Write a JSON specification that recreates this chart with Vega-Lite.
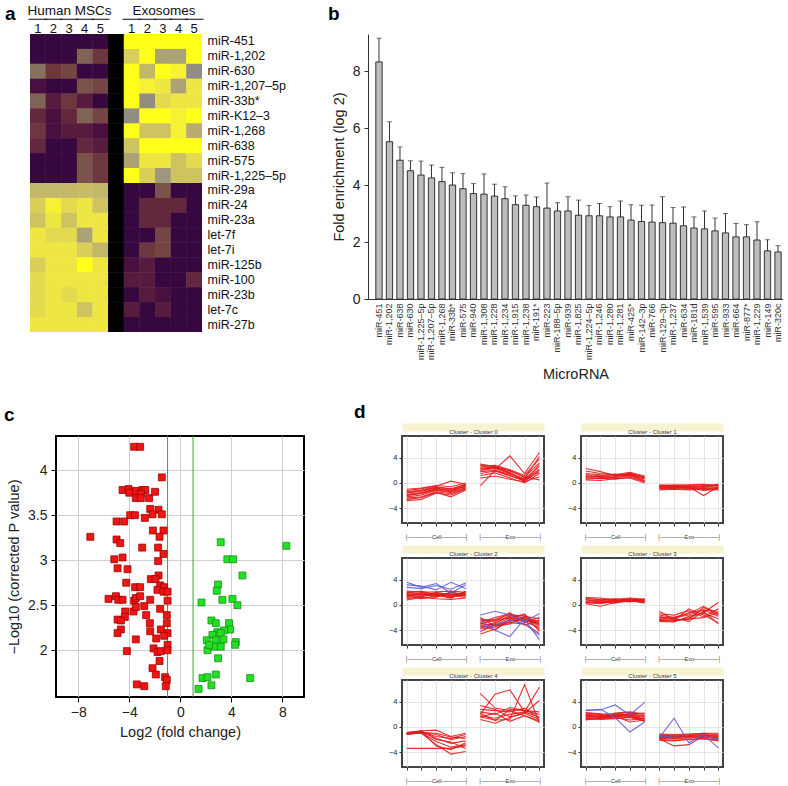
{
"$schema":"https://vega.github.io/schema/vega-lite/v6.json",
"padding":{"left":3,"top":3,"right":0,"bottom":0},
"background":"white",
"config":{"font":"Liberation Sans","view":{"stroke":null},"axis":{"labelFont":"Liberation Sans","titleFont":"Liberation Sans","titleFontWeight":"normal","labelColor":"#222","titleColor":"#222"},"title":{"font":"Liberation Sans"}},
"datasets":{
"heat":[
{"mir":"miR-451","m1":0,"m2":0,"m3":0,"m4":0,"m5":0,"g":0,"e1":1,"e2":1,"e3":1,"e4":1,"e5":1},
{"mir":"miR-1,202","m1":0,"m2":0,"m3":0,"m4":0.35,"m5":0.2,"g":0,"e1":0.8,"e2":1,"e3":0.6,"e4":0.6,"e5":1},
{"mir":"miR-630","m1":0.4,"m2":0.2,"m3":0.25,"m4":0,"m5":0,"g":0,"e1":1,"e2":0.7,"e3":1,"e4":0.95,"e5":0.5},
{"mir":"miR-1,207–5p","m1":0.05,"m2":0,"m3":0,"m4":0.3,"m5":0.25,"g":0,"e1":1,"e2":0.95,"e3":0.9,"e4":0.6,"e5":0.9},
{"mir":"miR-33b*","m1":0.35,"m2":0.1,"m3":0.2,"m4":0.1,"m5":0,"g":0,"e1":1,"e2":0.5,"e3":0.85,"e4":0.9,"e5":0.9},
{"mir":"miR-K12–3","m1":0.15,"m2":0.05,"m3":0.15,"m4":0.35,"m5":0.25,"g":0,"e1":0.5,"e2":1,"e3":1,"e4":0.95,"e5":1},
{"mir":"miR-1,268","m1":0.2,"m2":0.05,"m3":0.1,"m4":0.1,"m5":0.05,"g":0,"e1":1,"e2":0.75,"e3":0.75,"e4":0.95,"e5":0.65},
{"mir":"miR-638","m1":0.15,"m2":0,"m3":0,"m4":0.15,"m5":0.1,"g":0,"e1":0.75,"e2":1,"e3":1,"e4":1,"e5":1},
{"mir":"miR-575","m1":0,"m2":0,"m3":0,"m4":0.3,"m5":0.2,"g":0,"e1":0.6,"e2":0.9,"e3":0.9,"e4":0.75,"e5":0.85},
{"mir":"miR-1,225–5p","m1":0,"m2":0,"m3":0,"m4":0.3,"m5":0.2,"g":0,"e1":1,"e2":0.8,"e3":0.55,"e4":0.75,"e5":0.75},
{"mir":"miR-29a","m1":0.7,"m2":0.7,"m3":0.7,"m4":0.72,"m5":0.7,"g":0,"e1":0,"e2":0,"e3":0.3,"e4":0,"e5":0},
{"mir":"miR-24","m1":0.8,"m2":0.95,"m3":0.85,"m4":0.9,"m5":0.75,"g":0,"e1":0,"e2":0.15,"e3":0.15,"e4":0.15,"e5":0},
{"mir":"miR-23a","m1":0.75,"m2":0.9,"m3":0.75,"m4":0.9,"m5":0.9,"g":0,"e1":0,"e2":0.15,"e3":0.15,"e4":0,"e5":0},
{"mir":"let-7f","m1":0.9,"m2":0.85,"m3":0.85,"m4":0.6,"m5":0.9,"g":0,"e1":0,"e2":0,"e3":0.25,"e4":0,"e5":0},
{"mir":"let-7i","m1":0.9,"m2":0.9,"m3":0.9,"m4":0.8,"m5":0.7,"g":0,"e1":0,"e2":0.2,"e3":0.25,"e4":0,"e5":0},
{"mir":"miR-125b","m1":0.8,"m2":0.9,"m3":0.9,"m4":1,"m5":0.9,"g":0,"e1":0.05,"e2":0.1,"e3":0,"e4":0,"e5":0},
{"mir":"miR-100","m1":0.85,"m2":0.9,"m3":0.9,"m4":0.9,"m5":0.9,"g":0,"e1":0.1,"e2":0.1,"e3":0,"e4":0,"e5":0.15},
{"mir":"miR-23b","m1":0.85,"m2":0.9,"m3":0.85,"m4":0.9,"m5":0.9,"g":0,"e1":0,"e2":0.1,"e3":0.05,"e4":0,"e5":0},
{"mir":"let-7c","m1":0.85,"m2":0.9,"m3":0.9,"m4":0.75,"m5":0.9,"g":0,"e1":0.1,"e2":0,"e3":0.1,"e4":0,"e5":0},
{"mir":"miR-27b","m1":0.9,"m2":0.9,"m3":0.9,"m4":0.9,"m5":0.9,"g":0,"e1":0,"e2":0,"e3":0,"e4":0,"e5":0}
],
"bars":[
{"m":"miR-451","v":8.32,"hi":9.15},{"m":"miR-1,202","v":5.52,"hi":6.22},{"m":"miR-638","v":4.87,"hi":5.33},{"m":"miR-630","v":4.5,"hi":4.85},
{"m":"miR-1,225–5p","v":4.35,"hi":4.84},{"m":"miR-1,207–5p","v":4.25,"hi":4.7},{"m":"miR-1,268","v":4.12,"hi":4.62},{"m":"miR-33b*","v":4.0,"hi":4.43},
{"m":"miR-575","v":3.87,"hi":4.4},{"m":"miR-940","v":3.7,"hi":4.05},{"m":"miR-1,308","v":3.68,"hi":4.39},{"m":"miR-1,228","v":3.61,"hi":4.03},
{"m":"miR-1,234","v":3.52,"hi":3.94},{"m":"miR-1,915","v":3.31,"hi":3.62},{"m":"miR-1,238","v":3.29,"hi":3.65},{"m":"miR-191*","v":3.24,"hi":3.58},
{"m":"miR-223","v":3.19,"hi":4.07},{"m":"miR-188–5p","v":3.09,"hi":3.38},{"m":"miR-939","v":3.09,"hi":3.59},{"m":"miR-1,825","v":2.94,"hi":3.47},
{"m":"miR-1,224–5p","v":2.92,"hi":3.28},{"m":"miR-1,246","v":2.92,"hi":3.35},{"m":"miR-1,280","v":2.88,"hi":3.24},{"m":"miR-1,281","v":2.88,"hi":3.44},
{"m":"miR-425*","v":2.77,"hi":3.31},{"m":"miR-142–3p","v":2.72,"hi":3.29},{"m":"miR-766","v":2.7,"hi":3.3},{"m":"miR-129–3p","v":2.68,"hi":3.59},
{"m":"miR-1,237","v":2.66,"hi":3.21},{"m":"miR-634","v":2.57,"hi":3.23},{"m":"miR-181d","v":2.49,"hi":2.88},{"m":"miR-1,539","v":2.46,"hi":3.09},
{"m":"miR-595","v":2.39,"hi":2.84},{"m":"miR-933","v":2.32,"hi":3.0},{"m":"miR-664","v":2.18,"hi":2.65},{"m":"miR-877*","v":2.18,"hi":2.61},
{"m":"miR-1,229","v":2.07,"hi":2.71},{"m":"miR-149","v":1.69,"hi":2.08},{"m":"miR-320c","v":1.65,"hi":1.87}
],
"thr":[{"t":-1},{"t":1}],
"volc":[
{"x":-3.62,"y":4.26,"g":"down"},{"x":-3.15,"y":4.26,"g":"down"},{"x":-1.45,"y":3.92,"g":"down"},
{"x":-4.53,"y":3.78,"g":"down"},{"x":-4.06,"y":3.79,"g":"down"},{"x":-3.49,"y":3.77,"g":"down"},{"x":-2.97,"y":3.78,"g":"down"},{"x":-2.75,"y":3.78,"g":"down"},{"x":-4.0,"y":3.75,"g":"down"},{"x":-3.1,"y":3.74,"g":"down"},
{"x":-3.49,"y":3.69,"g":"down"},{"x":-3.1,"y":3.69,"g":"down"},{"x":-2.45,"y":3.69,"g":"down"},{"x":-1.98,"y":3.76,"g":"down"},
{"x":-2.36,"y":3.57,"g":"down"},{"x":-1.71,"y":3.56,"g":"down"},{"x":-1.45,"y":3.51,"g":"down"},
{"x":-3.93,"y":3.5,"g":"down"},{"x":-3.56,"y":3.5,"g":"down"},{"x":-2.78,"y":3.47,"g":"down"},{"x":-2.18,"y":3.51,"g":"down"},
{"x":-5.0,"y":3.43,"g":"down"},{"x":-4.4,"y":3.43,"g":"down"},
{"x":-2.15,"y":3.33,"g":"down"},{"x":-1.32,"y":3.33,"g":"down"},{"x":-1.63,"y":3.26,"g":"down"},
{"x":-7.06,"y":3.26,"g":"down"},{"x":-5.0,"y":3.23,"g":"down"},{"x":-4.71,"y":3.19,"g":"down"},
{"x":-2.99,"y":3.14,"g":"down"},{"x":-1.74,"y":3.14,"g":"down"},{"x":-1.32,"y":3.07,"g":"down"},{"x":-1.74,"y":2.99,"g":"down"},
{"x":-5.18,"y":3.01,"g":"down"},{"x":-4.53,"y":3.03,"g":"down"},{"x":-4.92,"y":2.91,"g":"down"},{"x":-4.14,"y":2.9,"g":"down"},
{"x":-2.31,"y":2.79,"g":"down"},{"x":-1.71,"y":2.83,"g":"down"},{"x":-1.95,"y":2.79,"g":"down"},{"x":-4.24,"y":2.75,"g":"down"},
{"x":-3.54,"y":2.7,"g":"down"},{"x":-3.15,"y":2.7,"g":"down"},{"x":-1.58,"y":2.72,"g":"down"},{"x":-1.27,"y":2.7,"g":"down"},
{"x":-1.79,"y":2.67,"g":"down"},{"x":-1.32,"y":2.65,"g":"down"},{"x":-1.0,"y":2.65,"g":"down"},
{"x":-5.63,"y":2.57,"g":"down"},{"x":-5.05,"y":2.6,"g":"down"},{"x":-4.87,"y":2.56,"g":"down"},{"x":-4.53,"y":2.56,"g":"down"},{"x":-3.62,"y":2.55,"g":"down"},{"x":-3.49,"y":2.58,"g":"down"},{"x":-3.15,"y":2.6,"g":"down"},{"x":-2.83,"y":2.49,"g":"down"},{"x":-2.36,"y":2.56,"g":"down"},{"x":-1.0,"y":2.55,"g":"down"},
{"x":-4.32,"y":2.43,"g":"down"},{"x":-3.67,"y":2.43,"g":"down"},{"x":-4.35,"y":2.37,"g":"down"},{"x":-3.49,"y":2.48,"g":"down"},{"x":-2.68,"y":2.39,"g":"down"},{"x":-1.58,"y":2.46,"g":"down"},{"x":-1.06,"y":2.39,"g":"down"},
{"x":-4.92,"y":2.34,"g":"down"},{"x":-4.66,"y":2.33,"g":"down"},{"x":-2.39,"y":2.3,"g":"down"},{"x":-1.06,"y":2.3,"g":"down"},
{"x":-4.66,"y":2.23,"g":"down"},{"x":-4.92,"y":2.19,"g":"down"},{"x":-2.36,"y":2.21,"g":"down"},{"x":-1.53,"y":2.23,"g":"down"},{"x":-1.0,"y":2.19,"g":"down"},{"x":-1.27,"y":2.16,"g":"down"},
{"x":-3.49,"y":2.12,"g":"down"},{"x":-1.89,"y":2.13,"g":"down"},
{"x":-2.1,"y":2.02,"g":"down"},{"x":-1.79,"y":1.98,"g":"down"},{"x":-1.53,"y":1.99,"g":"down"},{"x":-1.0,"y":2.06,"g":"down"},{"x":-1.0,"y":2.0,"g":"down"},{"x":-4.19,"y":1.99,"g":"down"},
{"x":-1.63,"y":1.88,"g":"down"},{"x":-2.18,"y":1.8,"g":"down"},{"x":-1.92,"y":1.73,"g":"down"},{"x":-1.19,"y":1.7,"g":"down"},{"x":-1.06,"y":1.67,"g":"down"},{"x":-1.14,"y":1.6,"g":"down"},
{"x":-3.41,"y":1.62,"g":"down"},{"x":-2.83,"y":1.6,"g":"down"},
{"x":3.17,"y":3.2,"g":"up"},{"x":8.32,"y":3.16,"g":"up"},{"x":3.69,"y":3.01,"g":"up"},{"x":4.14,"y":3.01,"g":"up"},{"x":4.87,"y":2.83,"g":"up"},{"x":2.96,"y":2.73,"g":"up"},{"x":2.86,"y":2.66,"g":"up"},{"x":1.66,"y":2.53,"g":"up"},{"x":3.3,"y":2.56,"g":"up"},{"x":4.09,"y":2.57,"g":"up"},{"x":4.48,"y":2.5,"g":"up"},{"x":2.44,"y":2.33,"g":"up"},{"x":2.78,"y":2.3,"g":"up"},{"x":3.82,"y":2.3,"g":"up"},{"x":3.9,"y":2.23,"g":"up"},{"x":3.43,"y":2.22,"g":"up"},{"x":2.91,"y":2.2,"g":"up"},{"x":3.17,"y":2.19,"g":"up"},{"x":2.52,"y":2.17,"g":"up"},{"x":2.08,"y":2.11,"g":"up"},{"x":2.78,"y":2.11,"g":"up"},{"x":3.38,"y":2.12,"g":"up"},{"x":4.35,"y":2.09,"g":"up"},{"x":4.3,"y":2.06,"g":"up"},{"x":2.13,"y":2.0,"g":"up"},{"x":2.65,"y":2.04,"g":"up"},{"x":3.17,"y":2.04,"g":"up"},{"x":2.26,"y":2.06,"g":"up"},{"x":2.96,"y":1.91,"g":"up"},{"x":1.74,"y":1.69,"g":"up"},{"x":2.13,"y":1.7,"g":"up"},{"x":2.78,"y":1.73,"g":"up"},{"x":2.44,"y":1.61,"g":"up"},{"x":1.43,"y":1.57,"g":"up"},{"x":5.48,"y":1.69,"g":"up"}
],
"lines":[
{"cl":"Cluster 0","id":1,"k":"r","c1":-1.8,"c2":-1.5,"c3":-0.9,"c4":-1.2,"c5":-0.5,"e1":2.2,"e2":2.4,"e3":1.6,"e4":0.6,"e5":2.6},
{"cl":"Cluster 0","id":2,"k":"r","c1":-2.2,"c2":-1.9,"c3":-1.2,"c4":-1.5,"c5":-0.8,"e1":1.8,"e2":2.0,"e3":1.2,"e4":0.3,"e5":2.0},
{"cl":"Cluster 0","id":3,"k":"r","c1":-1.5,"c2":-1.2,"c3":-0.7,"c4":-0.9,"c5":-0.3,"e1":2.5,"e2":2.6,"e3":1.9,"e4":0.9,"e5":3.2},
{"cl":"Cluster 0","id":4,"k":"r","c1":-2.8,"c2":-2.6,"c3":-1.6,"c4":-1.9,"c5":-1.0,"e1":1.2,"e2":1.6,"e3":0.8,"e4":0.0,"e5":1.5},
{"cl":"Cluster 0","id":5,"k":"r","c1":-1.2,"c2":-0.9,"c3":-0.5,"c4":0.3,"c5":-0.2,"e1":2.8,"e2":2.2,"e3":4.3,"e4":1.5,"e5":4.8},
{"cl":"Cluster 0","id":6,"k":"r","c1":-2.0,"c2":-1.6,"c3":-1.0,"c4":-1.0,"c5":-0.6,"e1":0.8,"e2":1.1,"e3":0.6,"e4":0.2,"e5":1.0},
{"cl":"Cluster 0","id":7,"k":"r","c1":-1.0,"c2":-0.8,"c3":-0.4,"c4":-0.6,"c5":0.0,"e1":2.0,"e2":2.3,"e3":1.5,"e4":0.5,"e5":2.2},
{"cl":"Cluster 0","id":8,"k":"r","c1":-2.4,"c2":-2.2,"c3":-1.4,"c4":-1.7,"c5":-0.9,"e1":2.7,"e2":2.8,"e3":2.1,"e4":1.2,"e5":3.8},
{"cl":"Cluster 0","id":9,"k":"r","c1":-1.6,"c2":-1.3,"c3":-0.8,"c4":-1.3,"c5":-0.4,"e1":1.5,"e2":1.9,"e3":1.1,"e4":0.4,"e5":1.8},
{"cl":"Cluster 0","id":10,"k":"r","c1":-2.6,"c2":-2.3,"c3":-1.5,"c4":-2.2,"c5":-1.1,"e1":-0.4,"e2":2.0,"e3":1.4,"e4":0.7,"e5":4.2},
{"cl":"Cluster 0","id":11,"k":"r","c1":-1.4,"c2":-1.1,"c3":-0.6,"c4":-1.0,"c5":-0.2,"e1":2.3,"e2":2.5,"e3":1.7,"e4":0.2,"e5":2.9},
{"cl":"Cluster 0","id":12,"k":"r","c1":-1.9,"c2":-1.7,"c3":-1.1,"c4":-1.4,"c5":-0.7,"e1":3.0,"e2":2.6,"e3":2.0,"e4":1.0,"e5":0.5},
{"cl":"Cluster 1","id":1,"k":"r","c1":2.3,"c2":1.8,"c3":1.2,"c4":1.4,"c5":0.8,"e1":-0.5,"e2":-0.5,"e3":-0.6,"e4":-0.4,"e5":-0.5},
{"cl":"Cluster 1","id":2,"k":"r","c1":1.2,"c2":1.0,"c3":1.1,"c4":1.3,"c5":0.6,"e1":-0.7,"e2":-0.6,"e3":-0.8,"e4":-0.6,"e5":-0.7},
{"cl":"Cluster 1","id":3,"k":"r","c1":0.8,"c2":0.7,"c3":0.9,"c4":1.1,"c5":0.3,"e1":-1.0,"e2":-0.9,"e3":-1.0,"e4":-0.9,"e5":-0.9},
{"cl":"Cluster 1","id":4,"k":"r","c1":1.0,"c2":0.9,"c3":1.0,"c4":1.6,"c5":0.7,"e1":-0.3,"e2":-0.4,"e3":-0.3,"e4":-0.2,"e5":-0.4},
{"cl":"Cluster 1","id":5,"k":"r","c1":0.5,"c2":0.4,"c3":0.7,"c4":0.8,"c5":0.0,"e1":-0.6,"e2":-0.7,"e3":-0.6,"e4":-2.0,"e5":-0.6},
{"cl":"Cluster 1","id":6,"k":"r","c1":1.5,"c2":1.3,"c3":1.2,"c4":1.5,"c5":1.0,"e1":-1.1,"e2":-1.0,"e3":-1.1,"e4":-1.0,"e5":-1.1},
{"cl":"Cluster 1","id":7,"k":"r","c1":0.9,"c2":1.1,"c3":0.8,"c4":1.2,"c5":0.4,"e1":-0.4,"e2":-0.5,"e3":-0.5,"e4":-0.7,"e5":-0.3},
{"cl":"Cluster 1","id":8,"k":"r","c1":1.9,"c2":1.5,"c3":1.3,"c4":1.7,"c5":1.1,"e1":-0.8,"e2":-0.7,"e3":-0.9,"e4":-0.8,"e5":-0.8},
{"cl":"Cluster 1","id":9,"k":"r","c1":0.6,"c2":0.8,"c3":0.6,"c4":0.9,"c5":0.2,"e1":-0.5,"e2":-0.3,"e3":-0.4,"e4":-0.5,"e5":-0.2},
{"cl":"Cluster 1","id":10,"k":"r","c1":1.3,"c2":1.2,"c3":1.4,"c4":1.2,"c5":0.9,"e1":-0.9,"e2":-0.8,"e3":-0.7,"e4":-1.2,"e5":-1.0},
{"cl":"Cluster 2","id":1,"k":"r","c1":1.8,"c2":1.6,"c3":1.9,"c4":1.7,"c5":1.8,"e1":-3.0,"e2":-3.2,"e3":-2.0,"e4":-2.4,"e5":-3.0},
{"cl":"Cluster 2","id":2,"k":"r","c1":1.2,"c2":1.0,"c3":1.5,"c4":1.3,"c5":1.6,"e1":-3.8,"e2":-3.5,"e3":-2.3,"e4":-2.6,"e5":-3.6},
{"cl":"Cluster 2","id":3,"k":"r","c1":2.2,"c2":2.0,"c3":2.1,"c4":2.2,"c5":2.0,"e1":-2.5,"e2":-2.3,"e3":-1.5,"e4":-1.8,"e5":-2.2},
{"cl":"Cluster 2","id":4,"k":"r","c1":0.8,"c2":1.2,"c3":1.0,"c4":0.9,"c5":1.1,"e1":-4.2,"e2":-3.2,"e3":-2.8,"e4":-3.0,"e5":-4.5},
{"cl":"Cluster 2","id":5,"k":"r","c1":1.5,"c2":1.8,"c3":1.4,"c4":2.0,"c5":1.5,"e1":-2.8,"e2":-2.0,"e3":-1.4,"e4":-2.2,"e5":-2.6},
{"cl":"Cluster 2","id":6,"k":"r","c1":1.6,"c2":1.3,"c3":1.7,"c4":1.5,"c5":1.9,"e1":-3.4,"e2":-2.8,"e3":-1.8,"e4":-1.6,"e5":-3.2},
{"cl":"Cluster 2","id":7,"k":"r","c1":2.0,"c2":1.7,"c3":1.3,"c4":1.8,"c5":1.4,"e1":-4.6,"e2":-3.8,"e3":-2.6,"e4":-2.0,"e5":-3.9},
{"cl":"Cluster 2","id":8,"k":"r","c1":1.0,"c2":1.4,"c3":1.8,"c4":1.2,"c5":1.7,"e1":-2.2,"e2":-2.6,"e3":-1.2,"e4":-2.8,"e5":-2.0},
{"cl":"Cluster 2","id":9,"k":"r","c1":1.9,"c2":2.2,"c3":1.6,"c4":1.4,"c5":2.1,"e1":-3.2,"e2":-4.0,"e3":-2.2,"e4":-1.4,"e5":-4.2},
{"cl":"Cluster 2","id":10,"k":"r","c1":1.3,"c2":1.5,"c3":2.0,"c4":1.6,"c5":1.2,"e1":-3.6,"e2":-3.0,"e3":-1.6,"e4":-2.4,"e5":-2.8},
{"cl":"Cluster 2","id":11,"k":"r","c1":1.7,"c2":1.1,"c3":1.2,"c4":2.1,"c5":1.5,"e1":-2.0,"e2":-3.4,"e3":-3.0,"e4":-1.9,"e5":-3.4},
{"cl":"Cluster 2","id":12,"k":"r","c1":1.4,"c2":1.9,"c3":1.6,"c4":1.1,"c5":2.2,"e1":-3.0,"e2":-2.4,"e3":-2.0,"e4":-3.2,"e5":-2.4},
{"cl":"Cluster 2","id":13,"k":"b","c1":3.6,"c2":2.8,"c3":3.4,"c4":1.9,"c5":3.2,"e1":-1.6,"e2":-1.0,"e3":-1.6,"e4":-2.6,"e5":-1.4},
{"cl":"Cluster 2","id":14,"k":"b","c1":3.2,"c2":3.0,"c3":2.4,"c4":3.6,"c5":2.6,"e1":-2.4,"e2":-4.0,"e3":-5.0,"e4":-2.2,"e5":-5.5},
{"cl":"Cluster 2","id":15,"k":"b","c1":2.8,"c2":2.6,"c3":3.1,"c4":2.5,"c5":3.5,"e1":-3.6,"e2":-3.2,"e3":-2.4,"e4":-3.0,"e5":-4.8},
{"cl":"Cluster 3","id":1,"k":"r","c1":1.2,"c2":1.1,"c3":0.8,"c4":0.9,"c5":0.8,"e1":-1.0,"e2":-2.3,"e3":-2.3,"e4":-0.4,"e5":-1.6},
{"cl":"Cluster 3","id":2,"k":"r","c1":0.5,"c2":0.3,"c3":0.6,"c4":0.7,"c5":0.5,"e1":-2.2,"e2":-2.2,"e3":-1.2,"e4":-0.8,"e5":-1.0},
{"cl":"Cluster 3","id":3,"k":"r","c1":0.8,"c2":0.6,"c3":0.5,"c4":0.9,"c5":0.7,"e1":-1.8,"e2":-2.4,"e3":-0.6,"e4":-1.6,"e5":-2.8},
{"cl":"Cluster 3","id":4,"k":"r","c1":0.2,"c2":-0.2,"c3":0.4,"c4":0.6,"c5":0.4,"e1":-2.4,"e2":-2.6,"e3":-2.0,"e4":-1.2,"e5":0.4},
{"cl":"Cluster 3","id":5,"k":"r","c1":1.0,"c2":0.9,"c3":0.9,"c4":1.1,"c5":0.9,"e1":-2.0,"e2":-1.9,"e3":-1.4,"e4":-0.2,"e5":-1.4},
{"cl":"Cluster 3","id":6,"k":"r","c1":0.6,"c2":0.7,"c3":0.7,"c4":0.8,"c5":0.6,"e1":-2.6,"e2":-2.7,"e3":-1.8,"e4":-1.3,"e5":-2.2},
{"cl":"Cluster 3","id":7,"k":"r","c1":0.9,"c2":0.4,"c3":0.7,"c4":0.5,"c5":0.9,"e1":-1.4,"e2":-1.6,"e3":-0.9,"e4":-1.9,"e5":-0.6},
{"cl":"Cluster 3","id":8,"k":"r","c1":0.3,"c2":0.5,"c3":0.3,"c4":0.8,"c5":0.3,"e1":-2.3,"e2":-2.1,"e3":-2.6,"e4":-1.0,"e5":-3.0},
{"cl":"Cluster 3","id":9,"k":"r","c1":1.1,"c2":0.8,"c3":1.0,"c4":0.7,"c5":1.0,"e1":-1.6,"e2":-2.0,"e3":-1.6,"e4":-0.8,"e5":-1.8},
{"cl":"Cluster 3","id":10,"k":"r","c1":0.4,"c2":0.2,"c3":0.6,"c4":1.0,"c5":0.6,"e1":-2.5,"e2":-2.5,"e3":-2.2,"e4":-2.0,"e5":-1.2},
{"cl":"Cluster 4","id":1,"k":"r","c1":-1.0,"c2":-0.6,"c3":-0.5,"c4":-1.5,"c5":-1.0,"e1":5.3,"e2":3.0,"e3":2.6,"e4":1.8,"e5":1.0},
{"cl":"Cluster 4","id":2,"k":"r","c1":-1.1,"c2":-0.8,"c3":-1.2,"c4":-2.0,"c5":-1.5,"e1":2.0,"e2":5.2,"e3":5.9,"e4":2.4,"e5":6.3},
{"cl":"Cluster 4","id":3,"k":"r","c1":-0.9,"c2":-0.7,"c3":-1.8,"c4":-2.6,"c5":-2.2,"e1":1.6,"e2":1.1,"e3":1.2,"e4":6.7,"e5":0.7},
{"cl":"Cluster 4","id":4,"k":"r","c1":-1.2,"c2":-0.9,"c3":-2.3,"c4":-3.2,"c5":-2.8,"e1":2.4,"e2":2.0,"e3":3.1,"e4":2.6,"e5":2.0},
{"cl":"Cluster 4","id":5,"k":"r","c1":-1.0,"c2":-1.0,"c3":-2.8,"c4":-4.3,"c5":-3.9,"e1":1.2,"e2":0.6,"e3":1.5,"e4":2.2,"e5":4.2},
{"cl":"Cluster 4","id":6,"k":"r","c1":-3.4,"c2":-3.4,"c3":-3.4,"c4":-3.4,"c5":-3.0,"e1":2.8,"e2":2.6,"e3":2.4,"e4":3.0,"e5":1.4},
{"cl":"Cluster 4","id":7,"k":"r","c1":-1.1,"c2":-0.8,"c3":-1.5,"c4":-1.8,"c5":-1.2,"e1":1.8,"e2":1.4,"e3":2.0,"e4":2.4,"e5":1.6},
{"cl":"Cluster 4","id":8,"k":"r","c1":-0.9,"c2":-0.6,"c3":-2.0,"c4":-2.4,"c5":-3.4,"e1":2.2,"e2":1.0,"e3":2.8,"e4":2.6,"e5":2.4},
{"cl":"Cluster 4","id":9,"k":"r","c1":-1.0,"c2":-0.7,"c3":-3.0,"c4":-3.6,"c5":-2.5,"e1":3.4,"e2":2.8,"e3":1.6,"e4":2.2,"e5":1.2},
{"cl":"Cluster 4","id":10,"k":"r","c1":-1.2,"c2":-0.9,"c3":-1.0,"c4":-1.6,"c5":-1.8,"e1":1.6,"e2":2.2,"e3":0.9,"e4":1.8,"e5":0.8},
{"cl":"Cluster 5","id":1,"k":"r","c1":1.8,"c2":1.7,"c3":1.9,"c4":2.0,"c5":1.2,"e1":-1.5,"e2":-1.6,"e3":-1.4,"e4":-1.2,"e5":-1.6},
{"cl":"Cluster 5","id":2,"k":"r","c1":1.5,"c2":1.4,"c3":1.6,"c4":1.8,"c5":1.0,"e1":-1.8,"e2":-1.9,"e3":-1.7,"e4":-1.5,"e5":-1.9},
{"cl":"Cluster 5","id":3,"k":"r","c1":2.2,"c2":2.0,"c3":2.1,"c4":2.3,"c5":1.6,"e1":-1.2,"e2":-1.3,"e3":-1.2,"e4":-1.0,"e5":-1.2},
{"cl":"Cluster 5","id":4,"k":"r","c1":1.2,"c2":1.3,"c3":1.4,"c4":1.5,"c5":0.9,"e1":-2.0,"e2":-2.1,"e3":-2.0,"e4":-1.8,"e5":-2.1},
{"cl":"Cluster 5","id":5,"k":"r","c1":1.9,"c2":1.6,"c3":2.2,"c4":2.4,"c5":2.0,"e1":-1.4,"e2":-1.5,"e3":-1.5,"e4":-1.3,"e5":-1.4},
{"cl":"Cluster 5","id":6,"k":"r","c1":1.6,"c2":1.8,"c3":1.5,"c4":1.1,"c5":1.4,"e1":-1.7,"e2":-1.7,"e3":-1.6,"e4":-1.7,"e5":-1.7},
{"cl":"Cluster 5","id":7,"k":"r","c1":2.0,"c2":1.9,"c3":1.8,"c4":2.1,"c5":2.2,"e1":-1.3,"e2":-1.4,"e3":-1.3,"e4":-1.2,"e5":-1.3},
{"cl":"Cluster 5","id":8,"k":"r","c1":1.3,"c2":1.5,"c3":1.7,"c4":0.8,"c5":1.1,"e1":-1.9,"e2":-3.0,"e3":-2.8,"e4":-1.4,"e5":-2.0},
{"cl":"Cluster 5","id":9,"k":"r","c1":1.7,"c2":1.5,"c3":2.0,"c4":1.9,"c5":1.5,"e1":-1.6,"e2":-1.8,"e3":-1.5,"e4":-1.4,"e5":-1.8},
{"cl":"Cluster 5","id":10,"k":"r","c1":1.4,"c2":1.2,"c3":1.3,"c4":1.6,"c5":1.3,"e1":-2.1,"e2":-2.2,"e3":-1.9,"e4":-1.9,"e5":-2.2},
{"cl":"Cluster 5","id":11,"k":"r","c1":2.3,"c2":2.1,"c3":1.7,"c4":2.0,"c5":1.8,"e1":-1.1,"e2":-1.2,"e3":-1.1,"e4":-1.0,"e5":-1.0},
{"cl":"Cluster 5","id":12,"k":"r","c1":1.1,"c2":1.4,"c3":1.8,"c4":1.7,"c5":0.9,"e1":-1.6,"e2":-1.5,"e3":-1.6,"e4":-1.6,"e5":-1.5},
{"cl":"Cluster 5","id":13,"k":"b","c1":2.7,"c2":2.7,"c3":3.5,"c4":1.9,"c5":3.9,"e1":-1.7,"e2":1.4,"e3":-2.5,"e4":-1.2,"e5":-3.3},
{"cl":"Cluster 5","id":14,"k":"b","c1":2.6,"c2":2.8,"c3":1.5,"c4":-0.8,"c5":0.8,"e1":-1.5,"e2":-1.6,"e3":-1.7,"e4":-1.6,"e5":-1.8}
]
},
"spacing":20,
"vconcat":[
{"concat":[
 {"width":172,"height":298,"data":{"name":"heat"},
  "transform":[{"fold":["m1","m2","m3","m4","m5","g","e1","e2","e3","e4","e5"],"as":["k","v"]}],
  "title":{"text":"a","anchor":"start","frame":"group","dx":-25,"offset":-36,"fontSize":19,"fontWeight":"bold","baseline":"alphabetic","color":"#000"},
  "resolve":{"axis":{"x":"independent"}},
  "encoding":{
   "y":{"field":"mir","type":"ordinal","sort":["miR-451","miR-1,202","miR-630","miR-1,207–5p","miR-33b*","miR-K12–3","miR-1,268","miR-638","miR-575","miR-1,225–5p","miR-29a","miR-24","miR-23a","let-7f","let-7i","miR-125b","miR-100","miR-23b","let-7c","miR-27b"],"scale":{"paddingInner":0,"paddingOuter":0},
        "axis":{"orient":"right","domain":false,"ticks":false,"labelFontSize":12.5,"labelPadding":5,"labelColor":"#111","title":null}},
   "color":{"condition":{"test":"datum.k === 'g'","value":"#000000"},"field":"v","type":"quantitative","scale":{"domain":[0,0.5,1],"range":["#37073f","#918d80","#ffff1a"]},"legend":null}
  },
  "layer":[
   {"mark":{"type":"rect"},
    "encoding":{"x":{"field":"k","type":"ordinal","sort":["m1","m2","m3","m4","m5","g","e1","e2","e3","e4","e5"],"scale":{"paddingInner":0,"paddingOuter":0},
        "axis":{"orient":"top","domain":false,"ticks":false,"labelAngle":0,"labelFontSize":13,"labelColor":"#111","labelBaseline":"alphabetic","labelPadding":2,
          "labelExpr":"datum.value === 'g' ? '' : slice(datum.value, 1)",
          "title":"Human MSCs","titleX":39,"titleY":-20,"titleBaseline":"alphabetic","titleAlign":"center","titleFontSize":13.5,"titleColor":"#111"}}}},
   {"mark":{"type":"rect"},
    "encoding":{"x":{"field":"k","type":"ordinal","sort":["m1","m2","m3","m4","m5","g","e1","e2","e3","e4","e5"],"scale":{"paddingInner":0,"paddingOuter":0},
        "axis":{"orient":"top","domain":false,"ticks":false,"labelAngle":0,"labelFontSize":13,"labelColor":"#111","labelBaseline":"alphabetic","labelPadding":12,"labelOverlap":false,"labelBound":false,
          "labelExpr":"datum.value === 'g' ? '' : '──'",
          "title":"Exosomes","titleX":133.6,"titleY":-20,"titleBaseline":"alphabetic","titleAlign":"center","titleFontSize":13.5,"titleColor":"#111"}}}}
  ]},
 {"width":415,"height":265,"data":{"name":"bars"},
  "title":{"text":"b","anchor":"start","frame":"group","dx":-40,"offset":-5,"fontSize":19,"fontWeight":"bold","baseline":"alphabetic","color":"#000"},
  "encoding":{"x":{"field":"m","type":"nominal","sort":null,"scale":{"paddingInner":0.4,"paddingOuter":0.46,"align":0.81},
     "axis":{"labelAngle":-90,"labelFontSize":9,"labelColor":"#333","ticks":false,"domainColor":"#333","labelPadding":4,"title":"MicroRNA","titleFontSize":14.5,"titlePadding":8}}},
  "layer":[
   {"mark":{"type":"bar","fill":"#bdbdbd","stroke":"#333333","strokeWidth":1},
    "encoding":{"y":{"field":"v","type":"quantitative","scale":{"domain":[0,9.3],"nice":false},
      "axis":{"values":[0,2,4,6,8],"grid":false,"tickSize":4,"tickColor":"#333","domainColor":"#333","labelFontSize":14,"labelPadding":4,"title":"Fold enrichment (log 2)","titleFontSize":14.5,"titlePadding":6}}}},
   {"mark":{"type":"rule","color":"#333333","strokeWidth":1},"encoding":{"y":{"field":"v","type":"quantitative"},"y2":{"field":"hi"}}},
   {"mark":{"type":"tick","color":"#333333","size":5,"thickness":1},"encoding":{"y":{"field":"hi","type":"quantitative"}}}
  ]}
],"columns":2,"align":"none","spacing":42},
{"concat":[
 {"concat":[
  {"width":1,"height":1,"data":{"values":[{"s":0}]},"mark":{"type":"point","opacity":0,"size":1},"encoding":{}},
  {"width":248,"height":261,
   "title":{"text":"c","anchor":"start","frame":"group","dx":-52,"offset":-4,"fontSize":19,"fontWeight":"bold","baseline":"alphabetic","color":"#000"},
   "view":{"stroke":"#000000","strokeWidth":2},
   "layer":[
    {"data":{"name":"thr"},"mark":{"type":"rule","color":"#2fa82f","strokeWidth":1},
     "encoding":{"x":{"field":"t","type":"quantitative","title":"Log2 (fold change)","scale":{"domain":[-9.75,9.7],"nice":false,"zero":false}}}},
    {"data":{"name":"volc"},"mark":{"type":"point","shape":"square","filled":true,"size":48,"strokeWidth":0.8,"opacity":1},
     "encoding":{
      "x":{"field":"x","type":"quantitative","title":"Log2 (fold change)","scale":{"domain":[-9.75,9.7],"nice":false,"zero":false},
        "axis":{"values":[-8,-6,-4,-2,0,2,4,6,8],"format":"~g","grid":true,"gridColor":"#cfcfcf","domain":false,"tickSize":5,"tickColor":"#000","labelFontSize":14,"labelPadding":3,"titleFontSize":14.5,"titlePadding":6}},
      "y":{"field":"y","type":"quantitative","title":"−Log10 (corrected P value)","scale":{"domain":[1.48,4.38],"nice":false,"zero":false},
        "axis":{"values":[2,2.5,3,3.5,4],"format":"~g","grid":true,"gridColor":"#cfcfcf","domain":false,"tickSize":5,"tickColor":"#000","labelFontSize":14,"labelPadding":4,"titleFontSize":14.5,"titlePadding":6}},
      "fill":{"field":"g","type":"nominal","scale":{"domain":["down","up"],"range":["#ee1515","#22e022"]},"legend":null},
      "stroke":{"field":"g","type":"nominal","scale":{"domain":["down","up"],"range":["#a00000","#159015"]},"legend":null}
     }}
   ]}
 ],"columns":2,"align":"none","spacing":-28},
 {"concat":[
  {"width":142,"height":87,"data":{"name":"lines"},"transform":[{"filter":"datum.cl === 'Cluster 0'"}],
   "title":{"text":"d","anchor":"start","frame":"group","dx":-48,"offset":-10,"fontSize":19,"fontWeight":"bold","baseline":"alphabetic","color":"#000"},
   "view":{"stroke":"#444444","strokeWidth":2},"resolve":{"axis":{"x":"independent"}},
   "layer":[
    {"transform":[{"fold":["c1","c2","c3","c4","c5"],"as":["key","val"]}],"mark":{"type":"line","strokeWidth":1.1,"opacity":0.9},
     "encoding":{"x":{"field":"key","type":"ordinal","scale":{"type":"point","domain":["c1","c2","c3","c4","c5","e1","e2","e3","e4","e5"],"padding":0.32},
       "axis":{"orient":"bottom","grid":true,"gridColor":"#dddddd","gridWidth":0.8,"domain":false,"tickSize":3,"tickColor":"#333","labelExpr":"datum.value === 'c3' ? '├──────Cell──────┤' : (datum.value === 'e3' ? '├──────Exo──────┤' : '')","labelFontSize":5.5,"labelPadding":8,"labelAngle":0,"labelOverlap":false,"labelBound":false,"labelColor":"#333","title":null}},
      "y":{"field":"val","type":"quantitative","scale":{"domain":[-6.35,7.46],"nice":false,"zero":false},"axis":{"values":[-4,-2,0,2,4,6],"format":"~g","grid":true,"gridColor":"#dddddd","gridWidth":0.8,"domain":false,"tickSize":3,"tickColor":"#333","labelFontSize":7.5,"labelPadding":2,"title":null}},
      "detail":{"field":"id","type":"nominal"},
      "color":{"field":"k","type":"nominal","scale":{"domain":["r","b"],"range":["#e41a1c","#5c5cd6"]},"legend":null}}},
    {"transform":[{"fold":["e1","e2","e3","e4","e5"],"as":["key","val"]}],"mark":{"type":"line","strokeWidth":1.1,"opacity":0.9},
     "encoding":{"x":{"field":"key","type":"ordinal","scale":{"type":"point","domain":["c1","c2","c3","c4","c5","e1","e2","e3","e4","e5"],"padding":0.32},
       "axis":{"orient":"top","domain":true,"domainColor":"#f7f2cf","domainWidth":8,"ticks":false,"labels":false,"grid":false,"offset":9,"title":"Cluster - Cluster 0","titleFontSize":6,"titleFontWeight":"normal","titleColor":"#333","titleBaseline":"middle","titlePadding":-4}},
      "y":{"field":"val","type":"quantitative"},
      "detail":{"field":"id","type":"nominal"},
      "color":{"field":"k","type":"nominal","legend":null}}}
   ]},
  {"width":142,"height":87,"data":{"name":"lines"},"transform":[{"filter":"datum.cl === 'Cluster 1'"}],
   "view":{"stroke":"#444444","strokeWidth":2},"resolve":{"axis":{"x":"independent"}},
   "layer":[
    {"transform":[{"fold":["c1","c2","c3","c4","c5"],"as":["key","val"]}],"mark":{"type":"line","strokeWidth":1.1,"opacity":0.9},
     "encoding":{"x":{"field":"key","type":"ordinal","scale":{"type":"point","domain":["c1","c2","c3","c4","c5","e1","e2","e3","e4","e5"],"padding":0.32},
       "axis":{"orient":"bottom","grid":true,"gridColor":"#dddddd","gridWidth":0.8,"domain":false,"tickSize":3,"tickColor":"#333","labelExpr":"datum.value === 'c3' ? '├──────Cell──────┤' : (datum.value === 'e3' ? '├──────Exo──────┤' : '')","labelFontSize":5.5,"labelPadding":8,"labelAngle":0,"labelOverlap":false,"labelBound":false,"labelColor":"#333","title":null}},
      "y":{"field":"val","type":"quantitative","scale":{"domain":[-6.35,7.46],"nice":false,"zero":false},"axis":{"values":[-4,-2,0,2,4,6],"format":"~g","grid":true,"gridColor":"#dddddd","gridWidth":0.8,"domain":false,"tickSize":3,"tickColor":"#333","labelFontSize":7.5,"labelPadding":2,"title":null}},
      "detail":{"field":"id","type":"nominal"},
      "color":{"field":"k","type":"nominal","scale":{"domain":["r","b"],"range":["#e41a1c","#5c5cd6"]},"legend":null}}},
    {"transform":[{"fold":["e1","e2","e3","e4","e5"],"as":["key","val"]}],"mark":{"type":"line","strokeWidth":1.1,"opacity":0.9},
     "encoding":{"x":{"field":"key","type":"ordinal","scale":{"type":"point","domain":["c1","c2","c3","c4","c5","e1","e2","e3","e4","e5"],"padding":0.32},
       "axis":{"orient":"top","domain":true,"domainColor":"#f7f2cf","domainWidth":8,"ticks":false,"labels":false,"grid":false,"offset":9,"title":"Cluster - Cluster 1","titleFontSize":6,"titleFontWeight":"normal","titleColor":"#333","titleBaseline":"middle","titlePadding":-4}},
      "y":{"field":"val","type":"quantitative"},
      "detail":{"field":"id","type":"nominal"},
      "color":{"field":"k","type":"nominal","legend":null}}}
   ]},
  {"width":142,"height":87,"data":{"name":"lines"},"transform":[{"filter":"datum.cl === 'Cluster 2'"}],
   "view":{"stroke":"#444444","strokeWidth":2},"resolve":{"axis":{"x":"independent"}},
   "layer":[
    {"transform":[{"fold":["c1","c2","c3","c4","c5"],"as":["key","val"]}],"mark":{"type":"line","strokeWidth":1.1,"opacity":0.9},
     "encoding":{"x":{"field":"key","type":"ordinal","scale":{"type":"point","domain":["c1","c2","c3","c4","c5","e1","e2","e3","e4","e5"],"padding":0.32},
       "axis":{"orient":"bottom","grid":true,"gridColor":"#dddddd","gridWidth":0.8,"domain":false,"tickSize":3,"tickColor":"#333","labelExpr":"datum.value === 'c3' ? '├──────Cell──────┤' : (datum.value === 'e3' ? '├──────Exo──────┤' : '')","labelFontSize":5.5,"labelPadding":8,"labelAngle":0,"labelOverlap":false,"labelBound":false,"labelColor":"#333","title":null}},
      "y":{"field":"val","type":"quantitative","scale":{"domain":[-6.35,7.46],"nice":false,"zero":false},"axis":{"values":[-4,-2,0,2,4,6],"format":"~g","grid":true,"gridColor":"#dddddd","gridWidth":0.8,"domain":false,"tickSize":3,"tickColor":"#333","labelFontSize":7.5,"labelPadding":2,"title":null}},
      "detail":{"field":"id","type":"nominal"},
      "color":{"field":"k","type":"nominal","scale":{"domain":["r","b"],"range":["#e41a1c","#5c5cd6"]},"legend":null}}},
    {"transform":[{"fold":["e1","e2","e3","e4","e5"],"as":["key","val"]}],"mark":{"type":"line","strokeWidth":1.1,"opacity":0.9},
     "encoding":{"x":{"field":"key","type":"ordinal","scale":{"type":"point","domain":["c1","c2","c3","c4","c5","e1","e2","e3","e4","e5"],"padding":0.32},
       "axis":{"orient":"top","domain":true,"domainColor":"#f7f2cf","domainWidth":8,"ticks":false,"labels":false,"grid":false,"offset":9,"title":"Cluster - Cluster 2","titleFontSize":6,"titleFontWeight":"normal","titleColor":"#333","titleBaseline":"middle","titlePadding":-4}},
      "y":{"field":"val","type":"quantitative"},
      "detail":{"field":"id","type":"nominal"},
      "color":{"field":"k","type":"nominal","legend":null}}}
   ]},
  {"width":142,"height":87,"data":{"name":"lines"},"transform":[{"filter":"datum.cl === 'Cluster 3'"}],
   "view":{"stroke":"#444444","strokeWidth":2},"resolve":{"axis":{"x":"independent"}},
   "layer":[
    {"transform":[{"fold":["c1","c2","c3","c4","c5"],"as":["key","val"]}],"mark":{"type":"line","strokeWidth":1.1,"opacity":0.9},
     "encoding":{"x":{"field":"key","type":"ordinal","scale":{"type":"point","domain":["c1","c2","c3","c4","c5","e1","e2","e3","e4","e5"],"padding":0.32},
       "axis":{"orient":"bottom","grid":true,"gridColor":"#dddddd","gridWidth":0.8,"domain":false,"tickSize":3,"tickColor":"#333","labelExpr":"datum.value === 'c3' ? '├──────Cell──────┤' : (datum.value === 'e3' ? '├──────Exo──────┤' : '')","labelFontSize":5.5,"labelPadding":8,"labelAngle":0,"labelOverlap":false,"labelBound":false,"labelColor":"#333","title":null}},
      "y":{"field":"val","type":"quantitative","scale":{"domain":[-6.35,7.46],"nice":false,"zero":false},"axis":{"values":[-4,-2,0,2,4,6],"format":"~g","grid":true,"gridColor":"#dddddd","gridWidth":0.8,"domain":false,"tickSize":3,"tickColor":"#333","labelFontSize":7.5,"labelPadding":2,"title":null}},
      "detail":{"field":"id","type":"nominal"},
      "color":{"field":"k","type":"nominal","scale":{"domain":["r","b"],"range":["#e41a1c","#5c5cd6"]},"legend":null}}},
    {"transform":[{"fold":["e1","e2","e3","e4","e5"],"as":["key","val"]}],"mark":{"type":"line","strokeWidth":1.1,"opacity":0.9},
     "encoding":{"x":{"field":"key","type":"ordinal","scale":{"type":"point","domain":["c1","c2","c3","c4","c5","e1","e2","e3","e4","e5"],"padding":0.32},
       "axis":{"orient":"top","domain":true,"domainColor":"#f7f2cf","domainWidth":8,"ticks":false,"labels":false,"grid":false,"offset":9,"title":"Cluster - Cluster 3","titleFontSize":6,"titleFontWeight":"normal","titleColor":"#333","titleBaseline":"middle","titlePadding":-4}},
      "y":{"field":"val","type":"quantitative"},
      "detail":{"field":"id","type":"nominal"},
      "color":{"field":"k","type":"nominal","legend":null}}}
   ]},
  {"width":142,"height":87,"data":{"name":"lines"},"transform":[{"filter":"datum.cl === 'Cluster 4'"}],
   "view":{"stroke":"#444444","strokeWidth":2},"resolve":{"axis":{"x":"independent"}},
   "layer":[
    {"transform":[{"fold":["c1","c2","c3","c4","c5"],"as":["key","val"]}],"mark":{"type":"line","strokeWidth":1.1,"opacity":0.9},
     "encoding":{"x":{"field":"key","type":"ordinal","scale":{"type":"point","domain":["c1","c2","c3","c4","c5","e1","e2","e3","e4","e5"],"padding":0.32},
       "axis":{"orient":"bottom","grid":true,"gridColor":"#dddddd","gridWidth":0.8,"domain":false,"tickSize":3,"tickColor":"#333","labelExpr":"datum.value === 'c3' ? '├──────Cell──────┤' : (datum.value === 'e3' ? '├──────Exo──────┤' : '')","labelFontSize":5.5,"labelPadding":8,"labelAngle":0,"labelOverlap":false,"labelBound":false,"labelColor":"#333","title":null}},
      "y":{"field":"val","type":"quantitative","scale":{"domain":[-6.35,7.46],"nice":false,"zero":false},"axis":{"values":[-4,-2,0,2,4,6],"format":"~g","grid":true,"gridColor":"#dddddd","gridWidth":0.8,"domain":false,"tickSize":3,"tickColor":"#333","labelFontSize":7.5,"labelPadding":2,"title":null}},
      "detail":{"field":"id","type":"nominal"},
      "color":{"field":"k","type":"nominal","scale":{"domain":["r","b"],"range":["#e41a1c","#5c5cd6"]},"legend":null}}},
    {"transform":[{"fold":["e1","e2","e3","e4","e5"],"as":["key","val"]}],"mark":{"type":"line","strokeWidth":1.1,"opacity":0.9},
     "encoding":{"x":{"field":"key","type":"ordinal","scale":{"type":"point","domain":["c1","c2","c3","c4","c5","e1","e2","e3","e4","e5"],"padding":0.32},
       "axis":{"orient":"top","domain":true,"domainColor":"#f7f2cf","domainWidth":8,"ticks":false,"labels":false,"grid":false,"offset":9,"title":"Cluster - Cluster 4","titleFontSize":6,"titleFontWeight":"normal","titleColor":"#333","titleBaseline":"middle","titlePadding":-4}},
      "y":{"field":"val","type":"quantitative"},
      "detail":{"field":"id","type":"nominal"},
      "color":{"field":"k","type":"nominal","legend":null}}}
   ]},
  {"width":142,"height":87,"data":{"name":"lines"},"transform":[{"filter":"datum.cl === 'Cluster 5'"}],
   "view":{"stroke":"#444444","strokeWidth":2},"resolve":{"axis":{"x":"independent"}},
   "layer":[
    {"transform":[{"fold":["c1","c2","c3","c4","c5"],"as":["key","val"]}],"mark":{"type":"line","strokeWidth":1.1,"opacity":0.9},
     "encoding":{"x":{"field":"key","type":"ordinal","scale":{"type":"point","domain":["c1","c2","c3","c4","c5","e1","e2","e3","e4","e5"],"padding":0.32},
       "axis":{"orient":"bottom","grid":true,"gridColor":"#dddddd","gridWidth":0.8,"domain":false,"tickSize":3,"tickColor":"#333","labelExpr":"datum.value === 'c3' ? '├──────Cell──────┤' : (datum.value === 'e3' ? '├──────Exo──────┤' : '')","labelFontSize":5.5,"labelPadding":8,"labelAngle":0,"labelOverlap":false,"labelBound":false,"labelColor":"#333","title":null}},
      "y":{"field":"val","type":"quantitative","scale":{"domain":[-6.35,7.46],"nice":false,"zero":false},"axis":{"values":[-4,-2,0,2,4,6],"format":"~g","grid":true,"gridColor":"#dddddd","gridWidth":0.8,"domain":false,"tickSize":3,"tickColor":"#333","labelFontSize":7.5,"labelPadding":2,"title":null}},
      "detail":{"field":"id","type":"nominal"},
      "color":{"field":"k","type":"nominal","scale":{"domain":["r","b"],"range":["#e41a1c","#5c5cd6"]},"legend":null}}},
    {"transform":[{"fold":["e1","e2","e3","e4","e5"],"as":["key","val"]}],"mark":{"type":"line","strokeWidth":1.1,"opacity":0.9},
     "encoding":{"x":{"field":"key","type":"ordinal","scale":{"type":"point","domain":["c1","c2","c3","c4","c5","e1","e2","e3","e4","e5"],"padding":0.32},
       "axis":{"orient":"top","domain":true,"domainColor":"#f7f2cf","domainWidth":8,"ticks":false,"labels":false,"grid":false,"offset":9,"title":"Cluster - Cluster 5","titleFontSize":6,"titleFontWeight":"normal","titleColor":"#333","titleBaseline":"middle","titlePadding":-4}},
      "y":{"field":"val","type":"quantitative"},
      "detail":{"field":"id","type":"nominal"},
      "color":{"field":"k","type":"nominal","legend":null}}}
   ]}
 ],"columns":2,"align":"each","spacing":{"row":7,"column":21}}
],"columns":2,"align":"none","spacing":48}
]
}
